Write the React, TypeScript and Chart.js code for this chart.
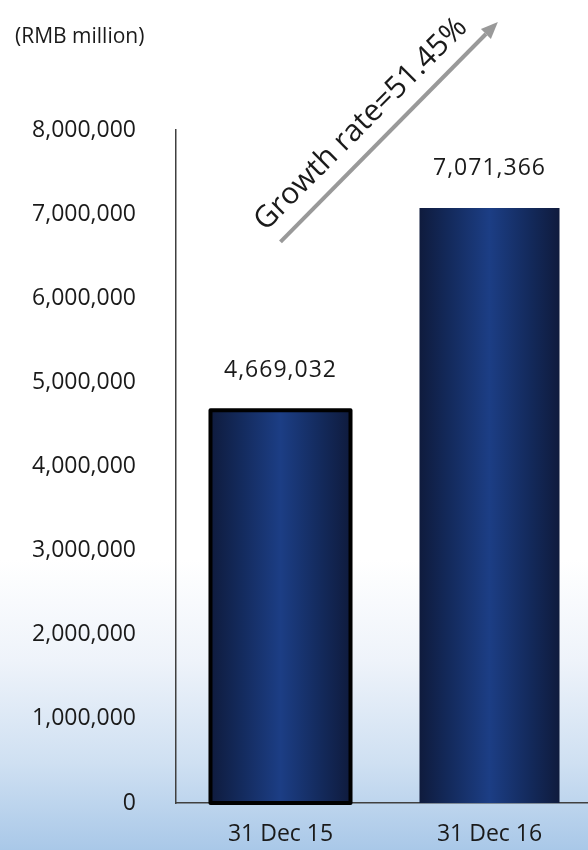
import React, { useEffect, useRef } from "react";
import { Chart, registerables } from "chart.js";

Chart.register(...registerables);

const categories = ["31 Dec 15", "31 Dec 16"];
const values = [4669032, 7071366];
const yMin = 0;
const yMax = 8000000;
const yStep = 1000000;
const unitLabel = "(RMB million)";
const growthLabel = "Growth rate=51.45%";
const barOutlineWidths = [4, 0];
// arrow annotation in data units: [category index, value]
const arrowStart = [0, 6670000];
const arrowEnd = [1.04, 9285000];
const growthTextAt = [0.385, 8070000];

const FONT = "'Open Sans', 'Noto Sans', sans-serif";
const fmt = (v: number) => v.toLocaleString("en-US");

export default function App() {
  const ref = useRef<HTMLCanvasElement | null>(null);

  useEffect(() => {
    document.body.style.margin = "0";
    const canvas = ref.current;
    if (!canvas) return;
    const barPct = 0.67;

    const bgPlugin = {
      id: "bg",
      beforeDraw(chart: any) {
        const { ctx, width, height } = chart;
        ctx.save();
        ctx.fillStyle = "#ffffff";
        ctx.fillRect(0, 0, width, height);
        const g = ctx.createLinearGradient(0, 560, 0, height);
        g.addColorStop(0, "rgba(255,255,255,1)");
        g.addColorStop(0.35, "#eef3fa");
        g.addColorStop(0.7, "#cfe0f2");
        g.addColorStop(1, "#a9c8e8");
        ctx.fillStyle = g;
        ctx.fillRect(0, 560, width, height - 560);
        ctx.restore();
      },
    };

    const labelPlugin = {
      id: "labels",
      afterDatasetsDraw(chart: any) {
        const { ctx } = chart;
        const meta = chart.getDatasetMeta(0);
        ctx.save();
        // outlines
        meta.data.forEach((el: any, i: number) => {
          const lw = barOutlineWidths[i];
          if (!lw) return;
          const { x, y, base, width } = el.getProps(["x", "y", "base", "width"], true);
          ctx.strokeStyle = "#000000";
          ctx.lineWidth = lw;
          ctx.lineJoin = "round";
          ctx.strokeRect(x - width / 2, y, width, base - y);
        });
        ctx.fillStyle = "#1a1a1a";
        ctx.font = `23px ${FONT}`;
        ctx.textAlign = "center";
        ctx.textBaseline = "middle";
        try { (ctx as any).letterSpacing = "1px"; } catch (e) {}
        meta.data.forEach((el: any, i: number) => {
          ctx.fillText(fmt(values[i]), el.x, el.y - 40);
        });
        ctx.restore();
      },
    };

    const annoPlugin = {
      id: "anno",
      afterDraw(chart: any) {
        const { ctx } = chart;
        const xs = chart.scales.x;
        const ys = chart.scales.y;
        ctx.save();
        // unit label
        ctx.fillStyle = "#1a1a1a";
        ctx.font = `21px ${FONT}`;
        ctx.textAlign = "left";
        ctx.textBaseline = "middle";
        ctx.fillText(unitLabel, 15, 37);

        // arrow
        const x1 = xs.getPixelForValue(arrowStart[0]);
        const y1 = ys.getPixelForValue(arrowStart[1]);
        const x2 = xs.getPixelForValue(arrowEnd[0]);
        const y2 = ys.getPixelForValue(arrowEnd[1]);
        const ang = Math.atan2(y2 - y1, x2 - x1);
        const headLen = 17;
        const headW = 7;
        const bx = x2 - headLen * Math.cos(ang);
        const by = y2 - headLen * Math.sin(ang);
        ctx.strokeStyle = "#999999";
        ctx.fillStyle = "#999999";
        ctx.lineWidth = 4;
        ctx.beginPath();
        ctx.moveTo(x1, y1);
        ctx.lineTo(bx, by);
        ctx.stroke();
        ctx.beginPath();
        ctx.moveTo(x2, y2);
        ctx.lineTo(bx + headW * Math.sin(ang), by - headW * Math.cos(ang));
        ctx.lineTo(bx - headW * Math.sin(ang), by + headW * Math.cos(ang));
        ctx.closePath();
        ctx.fill();

        // growth text
        const tx = xs.getPixelForValue(growthTextAt[0]);
        const ty = ys.getPixelForValue(growthTextAt[1]);
        ctx.translate(tx, ty);
        ctx.rotate(-Math.PI / 4);
        ctx.fillStyle = "#1a1a1a";
        ctx.font = `30px ${FONT}`;
        ctx.textAlign = "center";
        ctx.textBaseline = "middle";
        ctx.fillText(growthLabel, 0, 0);
        ctx.restore();
      },
    };

    const chart = new Chart(canvas, {
      type: "bar",
      data: {
        labels: categories,
        datasets: [
          {
            data: values,
            barPercentage: barPct,
            categoryPercentage: 1,
            borderWidth: 0,
            backgroundColor: (c: any) => {
              const ch = c.chart;
              const xs = ch.scales && ch.scales.x;
              if (!xs || !ch.chartArea) return "#16306a";
              const cx = xs.getPixelForValue(c.dataIndex);
              const w = (xs.width / categories.length) * barPct;
              const g = ch.ctx.createLinearGradient(cx - w / 2, 0, cx + w / 2, 0);
              g.addColorStop(0, "#0f1b3d");
              g.addColorStop(0.2, "#13295a");
              g.addColorStop(0.5, "#1c3e85");
              g.addColorStop(0.8, "#13295a");
              g.addColorStop(1, "#0f1b3d");
              return g;
            },
          } as any,
        ],
      },
      options: {
        animation: false,
        responsive: false,
        maintainAspectRatio: false,
        layout: { padding: { top: 130, right: 6, bottom: 0, left: 0 } },
        plugins: {
          legend: { display: false },
          tooltip: { enabled: false },
          title: { display: false },
        },
        scales: {
          x: {
            offset: true,
            grid: { display: false },
            border: { display: true, color: "#404040", width: 1.5 },
            ticks: {
              color: "#1a1a1a",
              font: { family: FONT, size: 23 },
              padding: 10,
              maxRotation: 0,
            },
            afterFit: (s: any) => {
              s.height = 47;
            },
          },
          y: {
            min: yMin,
            max: yMax,
            grid: { display: false },
            border: { display: true, color: "#404040", width: 1.5 },
            ticks: {
              stepSize: yStep,
              color: "#1a1a1a",
              font: { family: FONT, size: 23 },
              padding: 32,
              callback: (v: any) => fmt(Number(v)),
            },
            afterFit: (s: any) => {
              s.width = 176;
            },
          },
        },
      },
      plugins: [bgPlugin, labelPlugin, annoPlugin],
    });

    return () => chart.destroy();
  }, []);

  return (
    <div
      style={{
        position: "absolute",
        left: 0,
        top: 0,
        width: 588,
        height: 850,
        overflow: "hidden",
      }}
    >
      <canvas ref={ref} width={600} height={850} style={{ display: "block" }} />
    </div>
  );
}
